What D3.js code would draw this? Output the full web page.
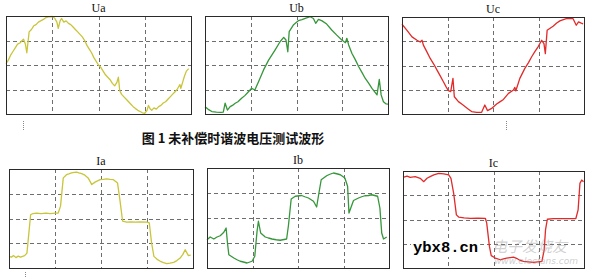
<!DOCTYPE html>
<html>
<head>
<meta charset="utf-8">
<script src="https://cdn.jsdelivr.net/npm/d3@7"></script>
<style>
  html, body { margin: 0; padding: 0; background: #fff; }
  svg { display: block; }
</style>
</head>
<body>
<div id="chart"></div>
<script>
// values are in grid units: x 0..4 (four divisions), y 0..4 (bottom to top)
const titles = ['Ua', 'Ub', 'Uc', 'Ia', 'Ib', 'Ic'];
const caption = '图 1 未补偿时谐波电压测试波形';
const gridTicks = [1, 2, 3];

const ua = [
  [0.00, 2.05], [0.05, 2.2], [0.10, 2.4], [0.15, 2.55], [0.20, 2.7], [0.25, 2.85],
  [0.30, 2.9], [0.35, 3.0], [0.38, 3.05], [0.42, 2.85], [0.45, 2.5], [0.48, 3.0],
  [0.50, 3.35], [0.55, 3.45], [0.60, 3.6], [0.65, 3.65], [0.70, 3.75], [0.75, 3.8],
  [0.80, 3.85], [0.85, 3.92], [0.90, 3.95], [0.95, 3.97], [1.00, 3.98], [1.05, 3.92],
  [1.10, 3.75], [1.13, 3.5], [1.17, 3.8], [1.20, 3.9], [1.25, 3.75], [1.30, 3.8],
  [1.35, 3.7], [1.40, 3.65], [1.45, 3.55], [1.50, 3.45], [1.55, 3.35], [1.60, 3.25],
  [1.65, 3.15], [1.70, 3.0], [1.75, 2.8], [1.80, 2.65], [1.85, 2.5], [1.90, 2.3],
  [1.95, 2.15], [2.00, 2.0], [2.05, 1.9], [2.10, 1.75], [2.15, 1.6], [2.20, 1.5],
  [2.25, 1.4], [2.30, 1.25], [2.35, 1.15], [2.40, 1.3], [2.43, 1.5], [2.46, 0.95],
  [2.50, 0.8], [2.55, 0.7], [2.60, 0.6], [2.65, 0.5], [2.70, 0.4], [2.75, 0.3],
  [2.80, 0.22], [2.85, 0.15], [2.90, 0.1], [2.95, 0.05], [3.00, 0.03], [3.05, 0.15],
  [3.08, 0.35], [3.12, 0.2], [3.15, 0.15], [3.20, 0.25], [3.25, 0.2], [3.30, 0.3],
  [3.35, 0.35], [3.40, 0.45], [3.45, 0.5], [3.50, 0.6], [3.55, 0.7], [3.60, 0.8],
  [3.65, 0.9], [3.70, 1.0], [3.73, 1.1], [3.76, 1.2], [3.78, 1.05], [3.82, 1.3],
  [3.86, 1.55], [3.90, 1.75], [3.95, 1.85],
];

const ub = [
  [0.00, 0.3], [0.07, 0.19], [0.15, 0.1], [0.25, 0.08], [0.35, 0.07], [0.40, 0.08],
  [0.44, 0.44], [0.49, 0.16], [0.55, 0.3], [0.60, 0.35], [0.66, 0.44], [0.72, 0.5],
  [0.80, 0.64], [0.87, 0.75], [0.95, 0.91], [1.02, 1.05], [1.09, 0.98], [1.17, 1.32],
  [1.28, 1.8], [1.39, 2.2], [1.46, 2.4], [1.53, 2.61], [1.64, 2.95], [1.72, 3.13],
  [1.77, 3.02], [1.81, 2.54], [1.84, 3.36], [1.93, 3.63], [2.04, 3.81], [2.12, 3.85],
  [2.19, 3.9], [2.30, 3.97], [2.37, 3.9], [2.42, 3.7], [2.48, 3.86], [2.55, 3.81],
  [2.66, 3.67], [2.77, 3.43], [2.88, 3.22], [2.99, 3.02], [3.07, 2.91], [3.10, 3.09],
  [3.14, 2.82], [3.21, 2.48], [3.29, 2.2], [3.36, 1.93], [3.43, 1.7], [3.50, 1.46],
  [3.58, 1.25], [3.65, 1.05], [3.76, 0.78], [3.81, 1.41], [3.85, 0.78], [3.90, 0.5],
  [3.96, 0.41], [4.00, 0.4],
];

const uc = [
  [0.00, 3.7], [0.11, 3.45], [0.22, 3.18], [0.33, 3.04], [0.40, 2.97], [0.44, 3.04],
  [0.47, 2.84], [0.55, 2.55], [0.62, 2.29], [0.70, 2.05], [0.77, 1.81], [0.84, 1.57],
  [0.91, 1.33], [0.97, 1.12], [1.02, 0.96], [1.07, 0.92], [1.12, 1.47], [1.15, 0.71],
  [1.24, 0.51], [1.32, 0.4], [1.39, 0.3], [1.46, 0.2], [1.53, 0.1], [1.64, 0.07],
  [1.75, 0.07], [1.82, 0.37], [1.88, 0.14], [1.97, 0.23], [2.08, 0.41], [2.15, 0.5],
  [2.23, 0.6], [2.34, 0.85], [2.45, 0.99], [2.48, 1.1], [2.50, 0.95], [2.59, 1.47],
  [2.70, 1.88], [2.78, 2.12], [2.85, 2.36], [2.92, 2.57], [2.99, 2.77], [3.07, 3.04],
  [3.12, 2.9], [3.15, 2.49], [3.19, 3.45], [3.32, 3.62], [3.40, 3.75], [3.47, 3.84],
  [3.61, 3.93], [3.76, 3.93], [3.83, 3.66], [3.88, 3.8], [3.94, 3.75], [3.98, 3.72],
];

const ia = [
  [0.00, 0.47], [0.05, 0.44], [0.10, 0.5], [0.15, 0.42], [0.20, 0.48], [0.25, 0.44],
  [0.34, 0.5], [0.39, 0.6], [0.47, 2.15], [0.52, 2.2], [0.60, 2.22], [0.70, 2.2],
  [0.80, 2.22], [0.90, 2.2], [1.00, 2.22], [1.07, 2.22], [1.12, 2.5], [1.18, 3.64],
  [1.25, 3.77], [1.30, 3.8], [1.36, 3.84], [1.42, 3.86], [1.47, 3.87], [1.52, 3.84],
  [1.58, 3.81], [1.65, 3.75], [1.72, 3.64], [1.80, 3.37], [1.87, 3.47], [1.98, 3.57],
  [2.05, 3.58], [2.12, 3.6], [2.20, 3.58], [2.27, 3.57], [2.36, 3.43], [2.41, 2.76],
  [2.47, 1.89], [2.56, 1.85], [2.65, 1.86], [2.75, 1.85], [2.85, 1.86], [3.00, 1.85],
  [3.05, 1.82], [3.10, 1.01], [3.15, 0.47], [3.22, 0.35], [3.29, 0.27], [3.36, 0.22],
  [3.43, 0.18], [3.50, 0.2], [3.58, 0.23], [3.65, 0.3], [3.72, 0.4], [3.78, 0.55],
  [3.83, 0.74], [3.90, 0.5], [3.95, 0.52],
];

const ib = [
  [0.00, 1.13], [0.07, 1.24], [0.15, 1.16], [0.22, 1.24], [0.29, 1.29], [0.37, 1.43],
  [0.42, 1.6], [0.45, 1.0], [0.48, 0.53], [0.59, 0.4], [0.66, 0.33], [0.73, 0.27],
  [0.80, 0.24], [0.88, 0.2], [0.99, 0.27], [1.05, 0.47], [1.10, 1.47], [1.13, 1.87],
  [1.18, 1.4], [1.28, 1.24], [1.35, 1.2], [1.43, 1.16], [1.52, 1.13], [1.61, 1.11],
  [1.75, 1.16], [1.79, 1.7], [1.85, 2.76], [1.94, 2.87], [2.08, 2.9], [2.15, 2.85],
  [2.23, 2.8], [2.34, 2.67], [2.41, 2.44], [2.46, 3.0], [2.51, 3.53], [2.63, 3.69],
  [2.70, 3.75], [2.78, 3.8], [2.85, 3.77], [2.93, 3.73], [3.03, 3.6], [3.09, 3.27],
  [3.12, 2.2], [3.17, 2.45], [3.22, 2.7], [3.33, 2.8], [3.40, 2.85], [3.47, 2.89],
  [3.55, 2.9], [3.62, 2.93], [3.75, 2.87], [3.80, 2.4], [3.84, 1.4], [3.88, 1.16],
  [3.95, 1.24],
];

const ic = [
  [0.00, 3.74], [0.09, 3.79], [0.16, 3.74], [0.27, 3.77], [0.38, 3.7], [0.46, 3.56],
  [0.53, 3.7], [0.60, 3.77], [0.68, 3.84], [0.79, 3.9], [0.90, 3.88], [1.01, 3.84],
  [1.06, 3.7], [1.12, 3.08], [1.18, 2.19], [1.23, 2.1], [1.35, 2.07], [1.49, 2.05],
  [1.65, 2.06], [1.82, 2.05], [1.85, 1.85], [1.91, 0.89], [1.95, 0.51], [2.04, 0.41],
  [2.15, 0.34], [2.22, 0.38], [2.29, 0.41], [2.37, 0.43], [2.44, 0.45], [2.51, 0.4],
  [2.58, 0.32], [2.66, 0.27], [2.77, 0.25], [2.88, 0.23], [2.98, 0.25], [3.07, 0.27],
  [3.12, 0.75], [3.15, 1.58], [3.19, 2.01], [3.32, 2.04], [3.50, 2.04], [3.62, 2.04],
  [3.82, 2.04], [3.87, 2.4], [3.91, 3.49], [3.95, 3.63], [3.99, 3.56],
];

const series = [ua, ub, uc, ia, ib, ic];
const phaseColor = ['#c9c53a', '#35963a', '#e22a2a', '#c9c53a', '#35963a', '#e22a2a'];

// pixel boxes of the six scope screens
const boxes = [
  { x0: 6, x1: 191, y0: 16, y1: 114 },
  { x0: 205, x1: 388, y0: 16, y1: 114 },
  { x0: 402, x1: 584, y0: 17, y1: 114 },
  { x0: 9, x1: 193, y0: 169, y1: 268 },
  { x0: 207, x1: 389, y0: 168, y1: 268 },
  { x0: 403, x1: 584, y0: 171, y1: 268 },
];

const W = 594, H = 278;
const svg = d3.select('#chart').append('svg')
  .attr('width', W)
  .attr('height', H)
  .attr('viewBox', `0 0 ${W} ${H}`);

svg.append('rect').attr('width', W).attr('height', H).attr('fill', '#fff');

function drawPanel(i) {
  const b = boxes[i];
  const x = d3.scaleLinear().domain([0, 4]).range([b.x0, b.x1]);
  const y = d3.scaleLinear().domain([0, 4]).range([b.y1, b.y0]);
  const g = svg.append('g');

  g.append('rect')
    .attr('x', b.x0 + 0.5).attr('y', b.y0 + 0.5)
    .attr('width', b.x1 - b.x0).attr('height', b.y1 - b.y0)
    .attr('fill', '#fff');

  g.selectAll('.vg').data(gridTicks).join('line')
    .attr('x1', d => Math.round(x(d)) + 0.5).attr('x2', d => Math.round(x(d)) + 0.5)
    .attr('y1', b.y0).attr('y2', b.y1)
    .attr('stroke', '#6e6e6e').attr('stroke-dasharray', '4,3');
  g.selectAll('.hg').data(gridTicks).join('line')
    .attr('y1', d => Math.round(y(d)) + 0.5).attr('y2', d => Math.round(y(d)) + 0.5)
    .attr('x1', b.x0).attr('x2', b.x1)
    .attr('stroke', '#6e6e6e').attr('stroke-dasharray', '4,3');

  const line = d3.line().x(d => x(d[0])).y(d => y(d[1]));
  g.append('path')
    .datum(series[i])
    .attr('d', line)
    .attr('fill', 'none')
    .attr('stroke', phaseColor[i])
    .attr('stroke-width', 1.3)
    .attr('stroke-linejoin', 'round');

  g.append('rect')
    .attr('x', b.x0 + 0.5).attr('y', b.y0 + 0.5)
    .attr('width', b.x1 - b.x0).attr('height', b.y1 - b.y0)
    .attr('fill', 'none')
    .attr('stroke', '#2a2a2a');

  g.append('text')
    .attr('x', x(2)).attr('y', b.y0 - 4)
    .attr('text-anchor', 'middle')
    .attr('font-family', '"Liberation Serif", "DejaVu Serif", serif')
    .attr('font-size', 12)
    .attr('fill', '#111')
    .text(titles[i]);
}

d3.range(6).forEach(drawPanel);

// caption between the rows
svg.append('text')
  .attr('x', 233).attr('y', 143)
  .attr('text-anchor', 'middle')
  .attr('font-family', '"Noto Sans CJK SC", sans-serif')
  .attr('font-weight', 700)
  .attr('font-size', 13)
  .attr('fill', '#111')
  .text(caption);

// small dotted marks left over from the page layout
[[23, 121, 131], [506, 121, 131], [25, 272, 278]].forEach(([mx, a, c]) => {
  svg.append('line')
    .attr('x1', mx + 0.5).attr('x2', mx + 0.5).attr('y1', a).attr('y2', c)
    .attr('stroke', '#888').attr('stroke-dasharray', '1,1');
});

// watermarks
svg.append('text')
  .attr('x', 492).attr('y', 252)
  .attr('font-family', '"Noto Sans CJK SC", sans-serif')
  .attr('font-size', 15)
  .attr('font-style', 'italic')
  .attr('fill', '#9a9a9a').attr('fill-opacity', 0.45)
  .text('电子发烧友');
svg.append('text')
  .attr('x', 494).attr('y', 264)
  .attr('font-family', '"DejaVu Sans", sans-serif')
  .attr('font-size', 9)
  .attr('font-style', 'italic')
  .attr('fill', '#9a9a9a').attr('fill-opacity', 0.5)
  .text('www.elecfans.com');

const wm = svg.append('text')
  .attr('x', 413).attr('y', 252)
  .attr('font-family', '"Liberation Mono", "DejaVu Sans Mono", monospace')
  .attr('font-weight', 700)
  .attr('font-size', 15.5)
  .attr('fill', '#000')
  .text('ybx8.cn');
const bb = wm.node().getBBox();
svg.insert('rect', () => wm.node())
  .attr('x', bb.x - 2).attr('y', bb.y + 1)
  .attr('width', bb.width + 4).attr('height', bb.height - 1)
  .attr('fill', '#fff');
</script>
</body>
</html>
